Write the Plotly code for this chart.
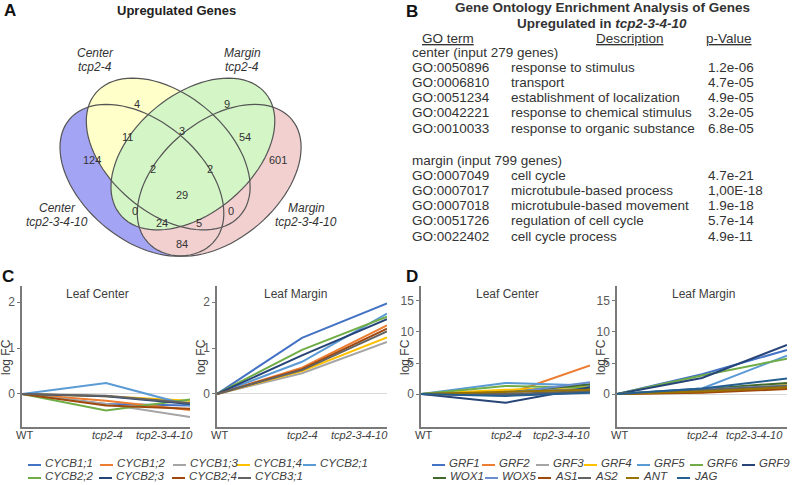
import numpy as np
import plotly.graph_objects as go

FONT = "Liberation Sans, Arial, sans-serif"
TXT = "#404040"

# ---- data ----
stages = ["WT", "tcp2-4", "tcp2-3-4-10"]

cyc_genes = ["CYCB1;1", "CYCB1;2", "CYCB1;3", "CYCB1;4", "CYCB2;1",
             "CYCB2;2", "CYCB2;3", "CYCB2;4", "CYCB3;1"]
cyc_center = [[0, -0.22, -0.25], [0, -0.15, -0.35], [0, -0.22, -0.50], [0, -0.05, -0.15],
              [0, 0.24, -0.25], [0, -0.36, -0.12], [0, -0.05, -0.22], [0, -0.25, -0.32],
              [0, -0.04, -0.20]]
cyc_margin = [[0, 1.22, 1.97], [0, 0.57, 1.49], [0, 0.45, 1.13], [0, 0.50, 1.23],
              [0, 0.70, 1.75], [0, 0.96, 1.68], [0, 0.84, 1.63], [0, 0.54, 1.42],
              [0, 0.52, 1.36]]

grf_genes = ["GRF1", "GRF2", "GRF3", "GRF4", "GRF5", "GRF6", "GRF9",
             "WOX1", "WOX5", "AS1", "AS2", "ANT", "JAG"]
grf_center = [[0, 0.3, 0.9], [0, -0.1, 4.6], [0, 0.5, 0.6], [0, 0.7, 1.2], [0, 1.8, 1.4],
              [0, 1.3, 1.0], [0, -1.4, 1.1], [0, 0.2, 1.6], [0, 0.1, 1.9], [0, -0.2, 0.3],
              [0, 0.0, 0.5], [0, 0.3, 0.7], [0, -0.3, 0.2]]
grf_margin = [[0, 3.2, 7.1], [0, 0.3, 1.0], [0, 0.5, 1.2], [0, 0.6, 1.5], [0, 0.9, 6.2],
              [0, 3.0, 5.7], [0, 2.6, 7.9], [0, 0.8, 1.8], [0, 0.7, 1.4], [0, 0.2, 0.8],
              [0, 0.6, 1.3], [0, 0.4, 1.1], [0, 0.9, 2.5]]

cyc_colors = ["#4472C4", "#ED7D31", "#A5A5A5", "#FFC000", "#5B9BD5",
              "#70AD47", "#264478", "#9E480E", "#636363"]
grf_colors = ["#4472C4", "#ED7D31", "#A5A5A5", "#FFC000", "#5B9BD5", "#70AD47", "#264478",
              "#43682B", "#698ED0", "#9E480E", "#636363", "#997300", "#255E91"]

venn_counts = [4, 9, 11, 3, 54, 124, 2, 2, 601, 29, 0, 0, 24, 5, 84]
venn_sets = [("Center", "tcp2-3-4-10"), ("Center", "tcp2-4"),
             ("Margin", "tcp2-4"), ("Margin", "tcp2-3-4-10")]

go_center_ids = ["GO:0050896", "GO:0006810", "GO:0051234", "GO:0042221", "GO:0010033"]
go_center_desc = ["response to stimulus", "transport", "establishment of localization",
                  "response to chemical stimulus", "response to organic substance"]
go_center_p = ["1.2e-06", "4.7e-05", "4.9e-05", "3.2e-05", "6.8e-05"]
go_margin_ids = ["GO:0007049", "GO:0007017", "GO:0007018", "GO:0051726", "GO:0022402"]
go_margin_desc = ["cell cycle", "microtubule-based process", "microtubule-based movement",
                  "regulation of cell cycle", "cell cycle process"]
go_margin_p = ["4.7e-21", "1,00E-18", "1.9e-18", "5.7e-14", "4.9e-11"]

# ---- layout helpers (pixel positions) ----
venn_pos = [(137, 104), (227, 104), (127, 137), (182, 131), (245, 137), (92, 160),
            (153, 169), (210, 169), (278, 160), (182, 195), (135, 211), (231, 211),
            (162, 223), (199, 223), (182, 244)]
venn_set_pos = [(57, 208), (95, 53), (242, 53), (306, 208)]
ell_centers = [(141.9, 180.3), (168.2, 154.0), (192.9, 154.0), (219.2, 180.3)]
ell_angles = [140, 140, 40, 40]
ell_fills = ["#a4a4f4", "#ffffca", "#d4f6c6", "#f2d0d0"]
draw_order = [0, 1, 3, 2]


def ellipse_path(cx, cy, a, b, ang):
    t = np.linspace(0, 2 * np.pi, 90)
    ca, sa = np.cos(np.radians(ang)), np.sin(np.radians(ang))
    xs = cx + a * np.cos(t) * ca - b * np.sin(t) * sa
    ys = cy - (a * np.cos(t) * sa + b * np.sin(t) * ca)
    return "M " + " L ".join(f"{x:.1f},{y:.1f}" for x, y in zip(xs, ys)) + " Z"


W, H = 792, 485
fig = go.Figure()

# line panels: (axis id, genes, values, colors, x px domain, title, title x, right edge of last tick label)
panels = [
    ("", cyc_genes, cyc_center, cyc_colors, (22, 190), "Leaf Center", 97, 195),
    ("2", cyc_genes, cyc_margin, cyc_colors, (217, 387), "Leaf Margin", 295, 390),
    ("3", grf_genes, grf_center, grf_colors, (421, 590), "Leaf Center", 507, 592),
    ("4", grf_genes, grf_margin, grf_colors, (617, 787), "Leaf Margin", 703, 785),
]
ydom = [1 - 427 / H, 1 - 286 / H]

annotations = []
shapes = []


def ann(x, y, text, size=11, **kw):
    d = dict(x=x, y=y, text=text, xref="x5", yref="y5", showarrow=False,
             font=dict(family=FONT, size=size, color=kw.pop("color", TXT)))
    d.update(kw)
    annotations.append(d)


for ax, genes, vals, cols, (x0, x1), title, tx, lab_end in panels:
    for g, v, c in zip(genes, vals, cols):
        fig.add_trace(go.Scatter(x=stages, y=v, mode="lines", name=g,
                                 line=dict(color=c, width=2),
                                 xaxis="x" + ax, yaxis="y" + ax, showlegend=False))
    is_c = ax in ("", "2")
    fig.update_layout(**{
        "xaxis" + ax: dict(domain=[x0 / W, x1 / W], anchor="y" + ax, range=[0, 2],
                           showline=True, linecolor="#7a7a7a", linewidth=1.5,
                           showticklabels=False, ticks="", showgrid=False, zeroline=False),
        "yaxis" + ax: dict(domain=ydom, anchor="x" + ax,
                           range=[-0.72, 2.35] if is_c else [-5.3, 17.4],
                           tickvals=[0, 1, 2] if is_c else [0, 5, 10, 15],
                           showline=True, linecolor="#7a7a7a", linewidth=1.5,
                           ticks="outside", ticklen=3, tickcolor="#7a7a7a",
                           tickfont=dict(family=FONT, size=12, color="#595959"),
                           showgrid=False, zeroline=True, zerolinecolor="#d9d9d9",
                           zerolinewidth=1),
    })
    ann(tx, 294, title, size=12)
    ann(x0 - 16, 357, "log FC", size=12, textangle=-90)
    ann(x0 + 2, 435, stages[0], size=11)
    ann(x0 + 85, 435, "<i>" + stages[1] + "</i>", size=11)
    ann(lab_end, 435, "<i>" + stages[2] + "</i>", size=11, xanchor="right")

# pixel canvas for venn, text table and legends
fig.update_layout(
    xaxis5=dict(domain=[0, 1], range=[0, W], visible=False, fixedrange=True, anchor="y5"),
    yaxis5=dict(domain=[0, 1], range=[H, 0], visible=False, fixedrange=True, anchor="x5"),
)
fig.add_trace(go.Scatter(x=[0], y=[0], xaxis="x5", yaxis="y5", mode="markers",
                         marker=dict(opacity=0), hoverinfo="skip", showlegend=False))

# venn ellipses: fills first, then outlines
for i in draw_order:
    cx, cy = ell_centers[i]
    shapes.append(dict(type="path", xref="x5", yref="y5",
                       path=ellipse_path(cx, cy, 94.7, 59.2, ell_angles[i]),
                       fillcolor=ell_fills[i], line=dict(width=0), layer="below"))
for i in range(4):
    cx, cy = ell_centers[i]
    shapes.append(dict(type="path", xref="x5", yref="y5",
                       path=ellipse_path(cx, cy, 94.7, 59.2, ell_angles[i]),
                       fillcolor="rgba(0,0,0,0)", line=dict(color="#555555", width=1.2),
                       layer="below"))
for n, (x, y) in zip(venn_counts, venn_pos):
    ann(x, y, str(n), size=11, color="#333333")
for (a, b), (x, y) in zip(venn_sets, venn_set_pos):
    ann(x, y, "<i>" + a + "</i>", size=12, color="#333333")
    ann(x, y + 13.5, "<i>" + b + "</i>", size=12, color="#333333")

# panel letters and titles
ann(10, 10, "<b>A</b>", size=17, color="#111111")
ann(176, 10, "<b>Upregulated Genes</b>", size=13, color="#222222")
ann(412, 11, "<b>B</b>", size=17, color="#111111")
ann(602, 7, "<b>Gene Ontology Enrichment Analysis of Genes</b>", size=13.5, color="#333333")
ann(602, 23, "<b>Upregulated in <i>tcp2-3-4-10</i></b>", size=13.5, color="#333333")
ann(8, 276, "<b>C</b>", size=17, color="#111111")
ann(412, 276, "<b>D</b>", size=17, color="#111111")

# GO table
ann(448, 38, "<u>GO term</u>", size=13.5, color="#333333")
ann(630, 38, "<u>Description</u>", size=13.5, color="#333333")
ann(729, 38, "<u>p-Value</u>", size=13.5, color="#333333")
for head, y0, ids, desc, pv in [("center (input 279 genes)", 52, go_center_ids, go_center_desc, go_center_p),
                                ("margin (input 799 genes)", 160, go_margin_ids, go_margin_desc, go_margin_p)]:
    ann(410, y0, head, size=13.5, color="#333333", xanchor="left")
    for k in range(len(ids)):
        yy = y0 + 15.2 * (k + 1)
        ann(410, yy, ids[k], size=13.5, color="#333333", xanchor="left")
        ann(509, yy, desc[k], size=13.5, color="#333333", xanchor="left")
        ann(706, yy, pv[k], size=13.5, color="#333333", xanchor="left")

# legends (text start x, row y)
cyc_leg_x = [43, 115, 188, 252, 318, 43, 114, 187, 253]
cyc_leg_y = [463] * 5 + [476] * 4
grf_leg_x = [447, 497, 551, 599, 652, 705, 757, 448, 500, 553, 593, 641, 692]
grf_leg_y = [463] * 7 + [476] * 6
for genes, cols, lx, ly in [(cyc_genes, cyc_colors, cyc_leg_x, cyc_leg_y),
                            (grf_genes, grf_colors, grf_leg_x, grf_leg_y)]:
    for g, c, x, y in zip(genes, cols, lx, ly):
        shapes.append(dict(type="line", xref="x5", yref="y5", x0=x - 15, x1=x - 2,
                           y0=y + 2, y1=y + 2, line=dict(color=c, width=2)))
        ann(x, y, "<i>" + g + "</i>", size=11.5, xanchor="left")

fig.update_layout(
    width=W, height=H,
    margin=dict(l=0, r=0, t=0, b=0),
    paper_bgcolor="white",
    plot_bgcolor="rgba(0,0,0,0)",
    showlegend=False,
    annotations=annotations,
    shapes=shapes,
)
fig.write_html("out.html", config={"displayModeBar": False},
               post_script="document.body.style.margin='0px';")
